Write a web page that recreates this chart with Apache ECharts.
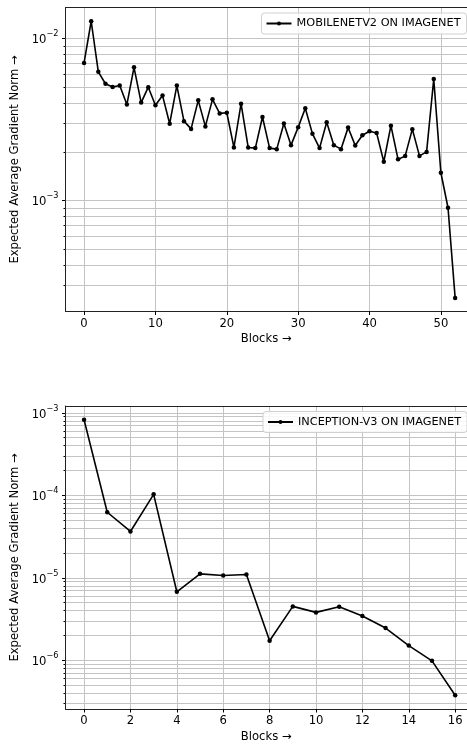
<!DOCTYPE html>
<html>
<head>
<meta charset="utf-8">
<script src="https://cdn.jsdelivr.net/npm/echarts@6/dist/echarts.min.js"></script>
<style>
html,body{margin:0;padding:0;background:#fff;}
#c{width:467px;height:744px;}
</style>
</head>
<body>
<div id="c"></div>
<script>
// ---- data ----
const mobileBlocks = [0,1,2,3,4,5,6,7,8,9,10,11,12,13,14,15,16,17,18,19,20,21,22,23,24,25,26,27,28,29,30,31,32,33,34,35,36,37,38,39,40,41,42,43,44,45,46,47,48,49,50,51,52];
const mobileNorm = [0.00705,0.01274,0.00621,0.00524,0.00501,0.00511,0.00390,0.00662,0.00401,0.00499,
  0.00386,0.00443,0.00297,0.00511,0.00308,0.00276,0.00414,0.00286,0.00420,0.00344,
  0.00347,0.00212,0.00395,0.00212,0.00210,0.00327,0.00210,0.00207,0.00298,0.00219,
  0.00282,0.00370,0.00258,0.00210,0.00303,0.00219,0.00207,0.00281,0.00218,0.00252,
  0.00267,0.00260,0.00173,0.00289,0.00179,0.00188,0.00275,0.00188,0.00199,0.00561,
  0.00148,0.00090,0.00025];
const inceptionBlocks = [0,1,2,3,4,5,6,7,8,9,10,11,12,13,14,15,16];
const inceptionNorm = [8.17e-4,6.19e-5,3.62e-5,1.02e-4,6.73e-6,1.11e-5,1.06e-5,1.09e-5,1.72e-6,4.48e-6,3.79e-6,4.44e-6,3.42e-6,2.45e-6,1.50e-6,9.8e-7,3.76e-7];

const mobileMajorTicks = [1e-3,1e-2];
const mobileMinorTicks = [3e-4,4e-4,5e-4,6e-4,7e-4,8e-4,9e-4,2e-3,3e-3,4e-3,5e-3,6e-3,7e-3,8e-3,9e-3];
const inceptionMajorTicks = [1e-6,1e-5,1e-4,1e-3];
const inceptionMinorTicks = [3e-7,4e-7,5e-7,6e-7,7e-7,8e-7,9e-7,
  2e-6,3e-6,4e-6,5e-6,6e-6,7e-6,8e-6,9e-6,
  2e-5,3e-5,4e-5,5e-5,6e-5,7e-5,8e-5,9e-5,
  2e-4,3e-4,4e-4,5e-4,6e-4,7e-4,8e-4,9e-4];

const mobileLabel = 'MOBILENETV2 ON IMAGENET';
const inceptionLabel = 'INCEPTION-V3 ON IMAGENET';
const xTitle = 'Blocks \u2192';
const yTitle = 'Expected Average Gradient Norm \u2192';

// ---- axis extents (figure is cut at the right edge) ----
const topX = [-2.6, 53.66];
const topY = [Math.pow(10,-3.686), Math.pow(10,-1.810)];
const botX = [-0.8, 16.51];
const botY = [Math.pow(10,-6.592), Math.pow(10,-2.921)];

const FONT = 'DejaVu Sans';
const GRIDC = '#c4c4c4';
const FRAME = '#222';
const FS = 11.6;

function pair(a,b){ return a.map((v,i)=>[v,b[i]]); }
function tickData(x0, majors, minors){
  return majors.map(v=>[x0,v,1]).concat(minors.map(v=>[x0,v,0]));
}
function makeRender(x0, x1){
  return function(params, api){
    const y = api.value(1), major = api.value(2);
    const p0 = api.coord([x0, y]);
    const p1 = api.coord([x1, y]);
    const yy = Math.round(p0[1]) + 0.5;
    return {type:'group', children:[
      {type:'line', shape:{x1:p0[0], y1:yy, x2:p1[0]+10, y2:yy}, style:{stroke:GRIDC, lineWidth:1}},
      {type:'line', shape:{x1:p0[0]-(major?3.5:2), y1:yy, x2:p0[0], y2:yy}, style:{stroke:'#000', lineWidth:1}}
    ]};
  };
}
function logLabel(v){
  const e = Math.log10(v), r = Math.round(e);
  if (Math.abs(e-r) > 1e-6) return '';
  return '{b|10}{s|\u2212' + Math.abs(r) + '}';
}
function xLabel(step){
  return function(v){
    const r = Math.round(v);
    if (Math.abs(v-r) > 1e-6 || r % step !== 0) return '';
    return String(r);
  };
}
const richSup = {
  b:{fontFamily:FONT,fontSize:FS,color:'#000',lineHeight:16,verticalAlign:'bottom'},
  s:{fontFamily:FONT,fontSize:8.2,color:'#000',lineHeight:16,verticalAlign:'top'}
};

function xAxisCfg(gi, ext, step){
  return {
    type:'value', gridIndex:gi, min:ext[0], max:ext[1], splitNumber: gi===0?5:8, position:'bottom',
    axisLine:{show:true, onZero:false, lineStyle:{color:FRAME, width:1}},
    axisTick:{show:true, length:3.5, lineStyle:{color:'#000', width:1}},
    axisLabel:{show:true, margin:6, fontFamily:FONT, fontSize:FS, color:'#000', formatter:xLabel(step), showMinLabel:false, showMaxLabel:false},
    splitLine:{show:true, lineStyle:{color:GRIDC, width:1}},
    name:xTitle, nameLocation:'middle', nameGap:21.5,
    nameTextStyle:{fontFamily:FONT, fontSize:FS, color:'#000'}
  };
}
function topFrameCfg(gi, ext){
  return {
    type:'value', gridIndex:gi, min:ext[0], max:ext[1], position:'top',
    axisLine:{show:true, onZero:false, lineStyle:{color:FRAME, width:1}},
    axisTick:{show:false}, axisLabel:{show:false}, splitLine:{show:false}
  };
}
function yAxisCfg(gi, ext){
  return {
    type:'log', logBase:10, gridIndex:gi, min:ext[0], max:ext[1],
    axisLine:{show:true, onZero:false, lineStyle:{color:FRAME, width:1}}, axisTick:{show:false}, splitLine:{show:false},
    axisLabel:{show:true, margin:7, formatter:logLabel, rich:richSup},
    name:yTitle, nameLocation:'middle', nameGap:42, nameRotate:90,
    nameTextStyle:{fontFamily:FONT, fontSize:FS, color:'#000'}
  };
}
function legendCfg(name, left, top){
  return {
    data:[name], left:left, top:top, orient:'vertical',
    itemWidth:25, itemHeight:5, itemGap:0,
    backgroundColor:'rgba(255,255,255,0.85)', borderColor:'#d0d0d0', borderWidth:1, borderRadius:3,
    padding:[5,6,5,4],
    textStyle:{fontFamily:FONT, fontSize:11.3, color:'#000'}
  };
}
function lineSeries(name, gi, data){
  return {
    type:'line', name:name, xAxisIndex:gi, yAxisIndex:gi, data:data,
    symbol:'circle', symbolSize:4.5, showSymbol:true,
    lineStyle:{color:'#000', width:1.6}, itemStyle:{color:'#000'},
    animation:false, z:5, clip:false
  };
}

const chart = echarts.init(document.getElementById('c'), null, {renderer:'canvas'});
chart.setOption({
  animation:false,
  backgroundColor:'#fff',
  grid:[
    {left:65.5, top:7.5, right:0, height:304},
    {left:65.5, top:406, right:0, height:303}
  ],
  xAxis:[xAxisCfg(0, topX, 10), xAxisCfg(1, botX, 2), topFrameCfg(0, topX), topFrameCfg(1, botX)],
  yAxis:[yAxisCfg(0, topY), yAxisCfg(1, botY)],
  legend:[legendCfg(mobileLabel, 261.5, 13), legendCfg(inceptionLabel, 263, 411.5)],
  series:[
    {type:'custom', xAxisIndex:0, yAxisIndex:0, data:tickData(topX[0], mobileMajorTicks, mobileMinorTicks),
     renderItem:makeRender(topX[0], topX[1]), clip:false, silent:true, z:1, encode:{x:0,y:1}},
    {type:'custom', xAxisIndex:1, yAxisIndex:1, data:tickData(botX[0], inceptionMajorTicks, inceptionMinorTicks),
     renderItem:makeRender(botX[0], botX[1]), clip:false, silent:true, z:1, encode:{x:0,y:1}},
    lineSeries(mobileLabel, 0, pair(mobileBlocks, mobileNorm)),
    lineSeries(inceptionLabel, 1, pair(inceptionBlocks, inceptionNorm))
  ]
});
</script>
</body>
</html>
